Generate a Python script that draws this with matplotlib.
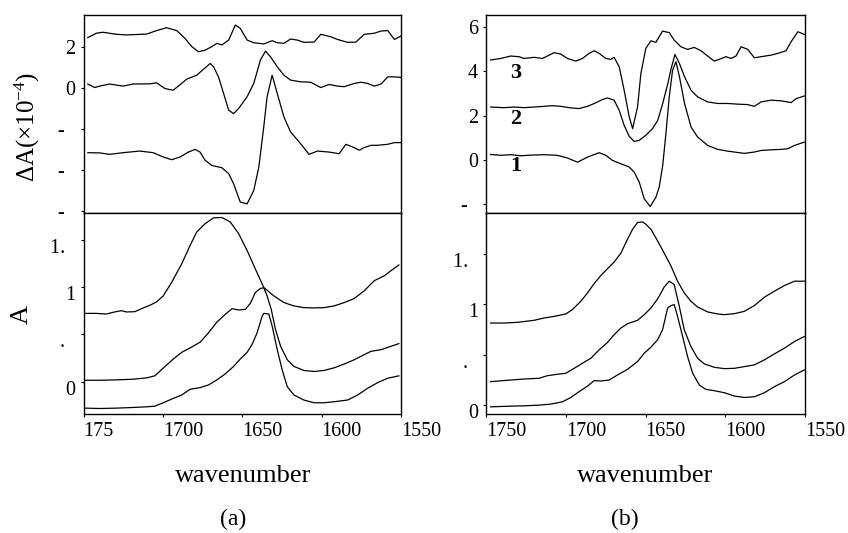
import matplotlib.pyplot as plt
from matplotlib.transforms import ScaledTranslation

plt.rcParams['font.family'] = ['Liberation Serif', 'DejaVu Serif']
plt.rcParams['mathtext.fontset'] = 'custom'
plt.rcParams['mathtext.rm'] = 'Liberation Serif'
plt.rcParams['mathtext.it'] = 'Liberation Serif:italic'

# ---- (a) difference spectra, dA x 1e-4 ----
a_dif1_wn = [1747.3, 1742.0, 1737.8, 1729.3, 1723.0, 1710.3, 1704.0, 1697.7, 1691.3, 1686.1,
             1681.8, 1677.6, 1673.4, 1669.2, 1666.0, 1662.9, 1658.6, 1654.4, 1651.3, 1647.0,
             1642.8, 1636.5, 1631.2, 1628.0, 1623.8, 1619.6, 1615.4, 1611.2, 1604.8, 1600.6,
             1594.3, 1590.1, 1583.7, 1578.5, 1573.2, 1566.9, 1562.6, 1558.4, 1554.2, 1550.0]
a_dif1 = [2.46, 2.67, 2.72, 2.62, 2.59, 2.63, 2.80, 2.94, 2.80, 2.42,
          2.02, 1.77, 1.85, 2.02, 2.18, 2.10, 2.34, 3.07, 2.91, 2.34,
          2.21, 2.15, 2.31, 2.21, 2.18, 2.39, 2.34, 2.23, 2.24, 2.62,
          2.50, 2.37, 2.23, 2.24, 2.62, 2.67, 2.78, 2.80, 2.37, 2.54]

a_dif2_wn = [1747.3, 1743.0, 1739.9, 1733.5, 1725.1, 1718.8, 1708.2, 1704.0, 1698.7, 1693.5,
             1688.2, 1685.0, 1678.7, 1675.5, 1670.2, 1668.1, 1665.0, 1661.8, 1658.6, 1655.5,
             1652.3, 1647.0, 1642.8, 1638.6, 1635.4, 1632.3, 1628.0, 1623.8, 1619.6, 1613.3,
             1607.0, 1600.6, 1595.3, 1590.1, 1585.8, 1579.5, 1575.3, 1571.1, 1566.9, 1562.6,
             1558.4, 1554.2, 1550.0]
a_dif2 = [0.20, 0.03, 0.10, 0.20, 0.10, 0.20, 0.21, 0.26, -0.02, -0.10,
          0.23, 0.44, 0.63, 0.85, 1.20, 1.04, 0.55, -0.26, -1.07, -1.24,
          -0.99, -0.42, 0.23, 1.37, 1.80, 1.53, 1.04, 0.63, 0.39, 0.31,
          0.29, 0.03, 0.18, 0.10, 0.07, 0.23, 0.29, 0.23, 0.10, 0.20,
          0.55, 0.55, 0.52]

a_dif3_wn = [1747.3, 1739.9, 1733.5, 1725.1, 1714.6, 1706.1, 1699.8, 1694.5, 1689.2, 1684.0,
             1679.7, 1676.6, 1673.4, 1669.2, 1662.9, 1658.6, 1655.5, 1651.3, 1647.0, 1642.8,
             1639.6, 1636.5, 1634.4, 1631.2, 1628.0, 1623.8, 1619.6, 1613.3, 1608.0, 1602.7,
             1595.3, 1589.0, 1584.8, 1580.6, 1576.3, 1573.2, 1568.9, 1564.7, 1558.4, 1554.2,
             1550.0]
a_dif3 = [-3.14, -3.15, -3.22, -3.14, -3.06, -3.14, -3.35, -3.48, -3.35, -3.11,
          -2.98, -3.11, -3.51, -3.76, -3.87, -4.16, -4.65, -5.54, -5.63, -4.98,
          -3.84, -1.89, -0.42, 0.63, -0.26, -1.40, -2.13, -2.70, -3.22, -3.06,
          -3.11, -3.19, -2.73, -2.86, -3.02, -2.89, -2.78, -2.78, -2.73, -2.65,
          -2.65]

# ---- (a) absorbance ----
a_abs1_wn = [1748.7, 1742.0, 1735.7, 1730.4, 1726.2, 1723.0, 1717.7, 1713.5, 1708.2, 1704.0,
             1699.8, 1694.5, 1688.2, 1682.9, 1678.7, 1673.4, 1668.1, 1662.9, 1657.6, 1652.3,
             1647.0, 1641.8, 1636.5, 1630.2, 1623.8, 1617.5, 1611.2, 1604.8, 1598.5, 1592.2,
             1585.8, 1579.5, 1573.2, 1566.9, 1560.5, 1556.3, 1551.4]
a_abs1 = [0.724, 0.724, 0.717, 0.739, 0.753, 0.739, 0.742, 0.774, 0.810, 0.846,
          0.910, 1.053, 1.249, 1.445, 1.588, 1.677, 1.738, 1.742, 1.695, 1.570,
          1.392, 1.196, 0.999, 0.910, 0.839, 0.803, 0.785, 0.782, 0.785, 0.803,
          0.839, 0.882, 0.964, 1.071, 1.124, 1.178, 1.238]

a_abs2_wn = [1748.7, 1739.9, 1729.3, 1718.8, 1710.3, 1705.1, 1699.8, 1693.5, 1688.2, 1682.9,
             1676.6, 1671.3, 1666.0, 1660.7, 1656.5, 1652.3, 1648.1, 1644.9, 1641.8, 1638.6,
             1636.5, 1634.4, 1631.8, 1629.1, 1625.9, 1621.7, 1617.5, 1611.2, 1604.8, 1598.5,
             1592.2, 1585.8, 1579.5, 1573.2, 1569.0, 1562.6, 1556.3, 1551.4]
a_abs2 = [0.014, 0.014, 0.018, 0.025, 0.039, 0.061, 0.143, 0.239, 0.310, 0.357,
          0.418, 0.517, 0.632, 0.714, 0.774, 0.760, 0.767, 0.832, 0.946, 0.989,
          0.996, 0.910, 0.767, 0.553, 0.375, 0.232, 0.161, 0.118, 0.107, 0.118,
          0.146, 0.186, 0.232, 0.286, 0.321, 0.339, 0.375, 0.403]

a_abs3_wn = [1748.7, 1739.9, 1729.3, 1718.8, 1710.3, 1705.1, 1699.8, 1694.5, 1688.2, 1682.9,
             1676.6, 1671.3, 1666.0, 1660.7, 1655.5, 1651.3, 1647.0, 1643.9, 1640.7, 1637.5,
             1636.5, 1633.3, 1631.2, 1628.0, 1624.9, 1621.7, 1617.5, 1611.2, 1604.8, 1598.5,
             1592.2, 1583.7, 1577.4, 1571.1, 1564.7, 1558.4, 1551.4]
a_abs3 = [-0.282, -0.286, -0.282, -0.275, -0.268, -0.261, -0.225, -0.186, -0.143, -0.082,
          -0.064, -0.036, 0.018, 0.082, 0.161, 0.239, 0.310, 0.393, 0.517, 0.696,
          0.724, 0.717, 0.589, 0.339, 0.125, -0.054, -0.143, -0.196, -0.225, -0.225,
          -0.214, -0.196, -0.143, -0.071, -0.011, 0.036, 0.061]

# ---- (b) difference spectra, traces 1-3 ----
b_dif3_wn = [1747.3, 1741.0, 1734.7, 1729.5, 1726.3, 1720.0, 1714.8, 1711.7, 1707.5, 1703.3,
             1699.1, 1693.9, 1689.7, 1685.5, 1682.3, 1679.2, 1675.0, 1671.9, 1669.8, 1666.6,
             1663.5, 1660.3, 1658.2, 1655.1, 1653.0, 1649.9, 1646.7, 1643.6, 1641.5, 1639.4,
             1635.2, 1632.1, 1627.9, 1623.7, 1619.5, 1615.3, 1611.1, 1606.9, 1602.7, 1599.6,
             1596.4, 1593.3, 1590.1, 1585.9, 1581.8, 1577.6, 1571.3, 1567.1, 1561.9, 1558.7,
             1554.5, 1550.4]
b_dif3 = [4.52, 4.59, 4.70, 4.67, 4.59, 4.64, 4.59, 4.70, 4.85, 4.79,
          4.59, 4.47, 4.59, 4.82, 4.94, 4.82, 4.59, 4.55, 4.64, 4.21,
          3.15, 1.94, 1.41, 2.39, 3.91, 5.05, 5.39, 5.32, 5.58, 5.83,
          5.76, 5.42, 5.12, 5.00, 5.09, 4.94, 4.70, 4.47, 4.58, 4.67,
          4.59, 4.70, 5.12, 5.00, 4.62, 4.67, 4.74, 4.82, 4.94, 5.35,
          5.80, 5.68]

b_dif2_wn = [1747.3, 1738.9, 1732.6, 1726.3, 1720.0, 1713.8, 1708.5, 1703.3, 1697.0, 1691.8,
             1686.5, 1681.3, 1677.1, 1674.0, 1669.8, 1666.6, 1663.5, 1660.3, 1657.2, 1654.0,
             1649.9, 1645.7, 1642.4, 1639.3, 1636.1, 1634.0, 1631.6, 1628.8, 1625.6, 1621.5,
             1617.4, 1611.1, 1604.8, 1598.5, 1592.3, 1586.0, 1581.8, 1577.6, 1571.3, 1565.0,
             1558.7, 1555.6, 1550.4]
b_dif2 = [2.39, 2.36, 2.39, 2.36, 2.39, 2.42, 2.45, 2.42, 2.35, 2.32,
          2.42, 2.58, 2.73, 2.80, 2.70, 2.24, 1.56, 1.06, 0.83, 0.88,
          1.11, 1.41, 1.79, 2.55, 3.45, 4.14, 4.77, 4.36, 3.76, 3.15,
          2.85, 2.62, 2.55, 2.55, 2.52, 2.50, 2.42, 2.62, 2.70, 2.67,
          2.59, 2.77, 2.89]

b_dif1_wn = [1747.3, 1741.0, 1734.7, 1728.4, 1722.1, 1713.8, 1705.4, 1699.1, 1692.8, 1686.5,
             1679.2, 1675.0, 1670.8, 1665.6, 1660.3, 1657.2, 1654.0, 1650.9, 1647.1, 1643.6,
             1641.5, 1639.3, 1637.3, 1635.2, 1633.1, 1631.0, 1628.8, 1625.6, 1621.5, 1617.4,
             1611.1, 1604.8, 1598.5, 1592.3, 1588.1, 1581.8, 1577.6, 1571.3, 1565.0, 1560.8,
             1556.6, 1550.4]
b_dif1 = [0.24, 0.20, 0.23, 0.18, 0.21, 0.23, 0.20, 0.08, -0.11, 0.12,
          0.32, 0.20, -0.03, -0.18, -0.33, -0.56, -1.02, -1.77, -2.12, -1.70,
          -1.24, -0.26, 1.18, 2.85, 4.06, 4.44, 3.76, 2.55, 1.48, 1.03,
          0.65, 0.47, 0.39, 0.33, 0.29, 0.35, 0.42, 0.45, 0.47, 0.50,
          0.65, 0.80]

# ---- (b) absorbance ----
b_abs1_wn = [1747.3, 1738.9, 1730.5, 1720.0, 1713.8, 1707.5, 1700.1, 1696.0, 1690.7, 1686.5,
             1682.3, 1678.1, 1674.0, 1669.8, 1665.6, 1661.4, 1658.2, 1655.1, 1652.0, 1649.9,
             1646.7, 1642.5, 1638.3, 1634.1, 1630.0, 1625.8, 1621.6, 1617.4, 1611.1, 1604.8,
             1600.6, 1594.3, 1588.1, 1581.8, 1575.5, 1569.2, 1562.9, 1556.6, 1550.4]
b_abs1 = [0.814, 0.814, 0.821, 0.841, 0.864, 0.880, 0.904, 0.947, 1.030, 1.113,
          1.206, 1.286, 1.352, 1.419, 1.505, 1.645, 1.744, 1.811, 1.817, 1.794,
          1.744, 1.628, 1.505, 1.379, 1.229, 1.113, 1.030, 0.973, 0.924, 0.904,
          0.897, 0.907, 0.930, 0.987, 1.070, 1.130, 1.186, 1.229, 1.229]

b_abs2_wn = [1747.3, 1734.7, 1726.3, 1716.9, 1711.7, 1705.4, 1700.1, 1694.9, 1689.7, 1684.4,
             1679.2, 1674.0, 1669.8, 1665.6, 1661.4, 1655.1, 1650.9, 1646.7, 1642.5, 1638.3,
             1635.2, 1632.1, 1628.9, 1625.8, 1621.6, 1617.4, 1613.2, 1606.9, 1600.6, 1594.3,
             1588.1, 1581.8, 1575.5, 1569.2, 1562.9, 1556.6, 1550.4]
b_abs2 = [0.233, 0.249, 0.259, 0.266, 0.292, 0.306, 0.316, 0.365, 0.415, 0.465,
          0.548, 0.621, 0.698, 0.764, 0.807, 0.841, 0.897, 0.963, 1.053, 1.173,
          1.229, 1.196, 0.980, 0.748, 0.581, 0.465, 0.409, 0.375, 0.362, 0.365,
          0.382, 0.399, 0.449, 0.508, 0.565, 0.631, 0.681]

b_abs3_wn = [1747.3, 1734.7, 1726.3, 1716.9, 1709.6, 1702.2, 1697.0, 1691.8, 1686.5, 1682.3,
             1678.1, 1672.9, 1667.7, 1661.4, 1655.1, 1650.9, 1646.7, 1642.5, 1639.4, 1636.2,
             1634.1, 1632.1, 1630.0, 1626.8, 1623.7, 1620.5, 1616.3, 1612.2, 1606.9, 1600.6,
             1594.3, 1588.1, 1581.8, 1575.5, 1569.2, 1562.9, 1556.6, 1550.4]
b_abs3 = [-0.017, -0.010, -0.007, 0.000, 0.010, 0.033, 0.076, 0.133, 0.189, 0.243,
          0.239, 0.249, 0.299, 0.355, 0.432, 0.515, 0.575, 0.648, 0.748, 0.963,
          0.987, 0.997, 0.880, 0.681, 0.482, 0.316, 0.199, 0.156, 0.143, 0.123,
          0.090, 0.076, 0.083, 0.123, 0.183, 0.233, 0.299, 0.349]

# axis ticks
x_ticks = [1750, 1700, 1650, 1600, 1550]
a_x_labels = ['175', '1700', '1650', '1600', '1550']
b_x_labels = ['1750', '1700', '1650', '1600', '1550']
a_dif_ticks = [2, 0, -2, -4, -6]
a_dif_labels = ['2', '0', '-  ', '-  ', '-  ']
b_dif_ticks = [6, 4, 2, 0, -2]
b_dif_labels = ['6', '4', '2', '0', '-  ']
abs_ticks = [1.5, 1.0, 0.5, 0.0]
abs_labels = ['1.  ', '1', '.  ', '0']

trace_names = ['1', '2', '3']
trace_y = [-0.30, 1.86, 3.95]

fig = plt.figure(figsize=(8.48, 5.33), dpi=100)
ax_at = fig.add_axes([0.0985, 0.6013, 0.3745, 0.3706])
ax_ab = fig.add_axes([0.0985, 0.2242, 0.3745, 0.3771])
ax_bt = fig.add_axes([0.5735, 0.6013, 0.3758, 0.3706])
ax_bb = fig.add_axes([0.5735, 0.2242, 0.3758, 0.3771])

lw = 0.9
ax_at.plot(a_dif1_wn, a_dif1, 'k', lw=lw)
ax_at.plot(a_dif2_wn, a_dif2, 'k', lw=lw)
ax_at.plot(a_dif3_wn, a_dif3, 'k', lw=lw)
ax_ab.plot(a_abs1_wn, a_abs1, 'k', lw=lw)
ax_ab.plot(a_abs2_wn, a_abs2, 'k', lw=lw)
ax_ab.plot(a_abs3_wn, a_abs3, 'k', lw=lw)
ax_bt.plot(b_dif1_wn, b_dif1, 'k', lw=lw)
ax_bt.plot(b_dif2_wn, b_dif2, 'k', lw=lw)
ax_bt.plot(b_dif3_wn, b_dif3, 'k', lw=lw)
ax_bb.plot(b_abs1_wn, b_abs1, 'k', lw=lw)
ax_bb.plot(b_abs2_wn, b_abs2, 'k', lw=lw)
ax_bb.plot(b_abs3_wn, b_abs3, 'k', lw=lw)

for name, y in zip(trace_names, trace_y):
    ax_bt.text(1731.5, y, name, fontsize=16, fontweight='bold', ha='center', va='center')


def style(ax, ylim, yticks, ylabels, xlabels=None, shift=0.0):
    ax.set_xlim(1750, 1550)
    ax.set_xticks(x_ticks)
    ax.set_ylim(*ylim)
    ax.set_yticks(yticks)
    ax.set_yticklabels(ylabels)
    ax.tick_params(direction='out', length=2.5, width=0.8, pad=3.5, labelsize=14.5)
    for s in ax.spines.values():
        s.set_linewidth(1.0)
    if xlabels is None:
        ax.set_xticklabels([])
    else:
        ax.set_xticklabels(xlabels, ha='left')
    if shift:
        off = ScaledTranslation(0, -shift, fig.dpi_scale_trans)
        for t in ax.get_yticklabels():
            t.set_transform(t.get_transform() + off)


style(ax_at, (-6.05, 3.56), a_dif_ticks, a_dif_labels)
style(ax_ab, (-0.339, 1.795), abs_ticks, abs_labels, a_x_labels, shift=0.06)
style(ax_bt, (-2.39, 6.56), b_dif_ticks, b_dif_labels)
style(ax_bb, (-0.083, 1.91), abs_ticks, abs_labels, b_x_labels, shift=0.06)

fig.text(27 / 848, 1 - 127 / 533, 'ΔA(×10$^{-4}$)', rotation=90,
         ha='center', va='center', fontsize=18)
fig.text(22 / 848, 1 - 315 / 533, 'A', rotation=90, ha='center', va='center', fontsize=19)

fig.text(243 / 848, 1 - 482 / 533, 'wavenumber', ha='center', va='baseline', fontsize=19)
fig.text(645 / 848, 1 - 482 / 533, 'wavenumber', ha='center', va='baseline', fontsize=19)
fig.text(233 / 848, 1 - 525 / 533, '(a)', ha='center', va='baseline', fontsize=17)
fig.text(625 / 848, 1 - 525 / 533, '(b)', ha='center', va='baseline', fontsize=17)

fig.savefig('out.png', dpi=100)
